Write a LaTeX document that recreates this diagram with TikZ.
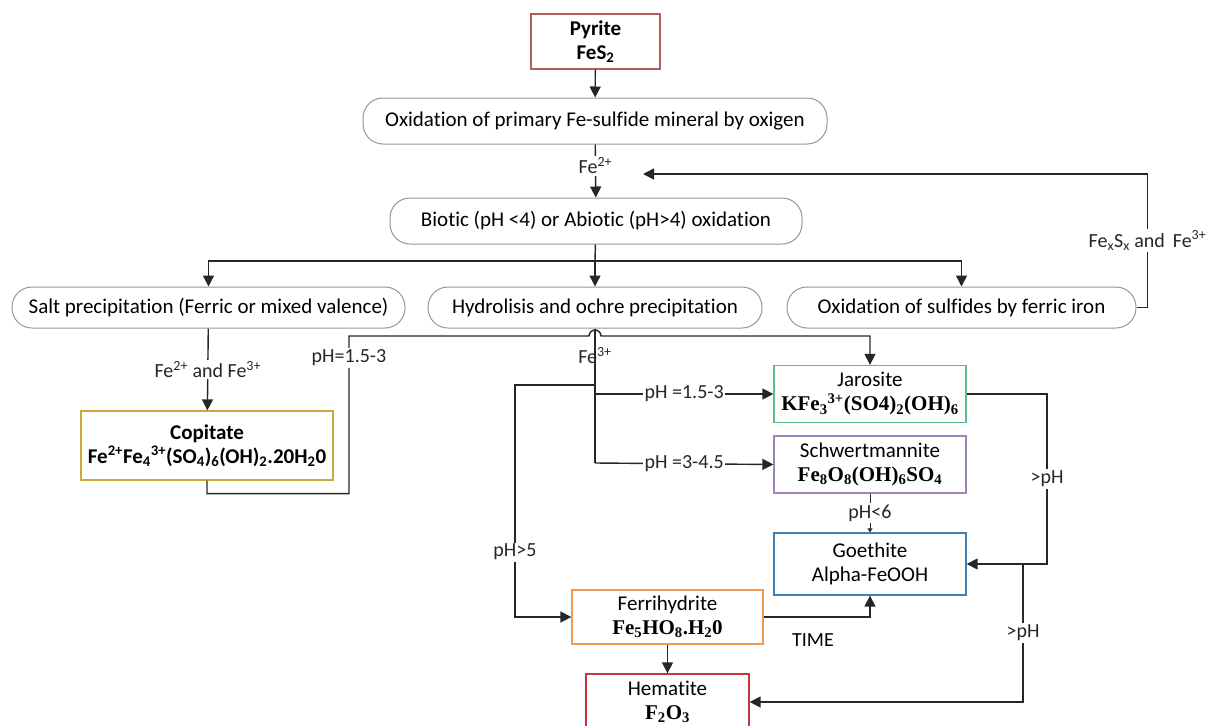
\documentclass[tikz,border=0pt]{standalone}
\usepackage{fontspec}
\setmainfont{Carlito}[Ligatures=NoCommon]
\newfontfamily\chemfont{Liberation Serif}
\usepackage{xcolor}
\definecolor{pillgray}{RGB}{150,150,150}
\definecolor{pyritered}{RGB}{178,92,92}
\definecolor{copigold}{RGB}{205,168,60}
\definecolor{jarogreen}{RGB}{92,190,135}
\definecolor{schwpurple}{RGB}{160,130,190}
\definecolor{goeblue}{RGB}{60,130,185}
\definecolor{ferrorange}{RGB}{240,155,80}
\definecolor{hemred}{RGB}{200,55,55}
\usepackage{tikz}
\usetikzlibrary{shapes.geometric, arrows.meta, positioning}
\newcommand{\chsup}[1]{\textsuperscript{#1}}
\newcommand{\chsub}[1]{\textsubscript{#1}}

\begin{document}
\begin{tikzpicture}[
    x=1pt, y=1pt,
    font=\fontsize{21}{24}\selectfont,
    pill/.style={rectangle, rounded corners=20pt, draw=pillgray, line width=1pt, minimum height=41pt, text centered, inner sep=2pt},
    mineral/.style={rectangle, draw, line width=1.3pt, align=center, inner sep=2pt},
    link/.style={line width=1.4pt, black!85},
    arrow/.style={link, -{Triangle[length=11pt,width=11pt]}},
    smallarrow/.style={link, line width=1pt, -{Triangle[length=4pt,width=5pt]}},
    lbl/.style={fill=white, inner sep=1.5pt, font=\fontsize{20}{22}\selectfont}
]
\clip (0,0) rectangle (1211,-726);

% Nodes
\node (pyr) [mineral, draw=pyritered, minimum width=129pt, minimum height=55pt] at (595.5,-41.5) {\bfseries Pyrite\\\bfseries FeS\chsub{2}};
\node (oxi) [pill, minimum width=464pt, minimum height=46pt] at (595,-121) {Oxidation of primary Fe-sulfide mineral by oxigen};
\node (bio) [pill, minimum width=412pt, minimum height=46pt] at (596,-221) {Biotic (pH <4) or Abiotic (pH>4) oxidation};
\node (salt) [pill, minimum width=393pt] at (208.5,-307.5) {Salt precipitation (Ferric or mixed valence)};
\node (hyd) [pill, minimum width=334pt] at (595,-307.5) {Hydrolisis and ochre precipitation};
\node (sulf) [pill, minimum width=349pt] at (961.5,-307.5) {Oxidation of sulfides by ferric iron};
\node (copi) [mineral, draw=copigold, minimum width=252pt, minimum height=69pt] at (207,-445.5) {\bfseries Copitate\\\bfseries Fe\chsup{2+}Fe\chsub{4}\chsup{3+}(SO\chsub{4})\chsub{6}(OH)\chsub{2}.20H\chsub{2}0};
\node (jaro) [mineral, draw=jarogreen, minimum width=192pt, minimum height=57pt] at (870,-394) {Jarosite\\{\chemfont\bfseries KFe\chsub{3}\chsup{3+}(SO4)\chsub{2}(OH)\chsub{6}}};
\node (schw) [mineral, draw=schwpurple, minimum width=192pt, minimum height=57pt] at (870,-464.5) {Schwertmannite\\{\chemfont\bfseries Fe\chsub{8}O\chsub{8}(OH)\chsub{6}SO\chsub{4}}};
\node (goe) [mineral, draw=goeblue, minimum width=192pt, minimum height=62pt] at (870,-564) {Goethite\\Alpha-FeOOH};
\node (ferr) [mineral, draw=ferrorange, minimum width=191pt, minimum height=54pt] at (667.5,-617) {Ferrihydrite\\{\chemfont\bfseries Fe\chsub{5}HO\chsub{8}.H\chsub{2}0}};
\node (hem) [mineral, draw=hemred, minimum width=163pt, minimum height=56pt] at (667.5,-702) {Hematite\\{\chemfont\bfseries F\chsub{2}O\chsub{3}}};
\node (time) [font=\fontsize{20}{22}\selectfont] at (813,-640) {TIME};

% Junctions
\coordinate (fb) at (643,-174);
\coordinate (split) at (595,-261);
\coordinate (fbranch) at (595,-385);
\coordinate (jbranch) at (595,-394);
\coordinate (hydlow) at (595,-463);
\coordinate (gsplit) at (1023,-564);

% Arrows
\draw [arrow] (pyr) -- (oxi);
\draw [arrow] (oxi) -- node[lbl, pos=0.4]{Fe\chsup{2+}} (bio);
\draw [arrow] (sulf.east) -- ++(11,0) |- node[lbl, pos=0.25]{Fe\chsub{x}S\chsub{x} and\, Fe\chsup{3+}} (fb);
\draw [link] (bio) -- (split);
\draw [arrow] (split) -| (salt);
\draw [arrow] (split) -- (hyd);
\draw [arrow] (split) -| (sulf);
\draw [arrow] (salt) -- node[lbl]{Fe\chsup{2+} and Fe\chsup{3+}} (copi);
\draw [arrow] (copi.south) -- ++(0,-13) -| node[lbl, pos=0.93]{pH=1.5-3} (349,-336) -- (589,-336) arc[start angle=180, end angle=0, radius=6pt] -| (jaro.north);
\draw [link] (hyd.south) -- node[pos=0.2, inner sep=0pt, font=\fontsize{20}{22}\selectfont]{Fe\chsup{3+}} (hydlow);
\draw [arrow] (jbranch) -- node[lbl]{pH =1.5-3} (jaro.west);
\draw [arrow] (hydlow) -- node[lbl]{pH =3-4.5} (schw.west);
\draw [arrow] (fbranch) -- (515,-385) |- node[lbl, pos=0.36]{pH>5} (ferr.west);
\draw [smallarrow] (schw) -- node[lbl]{pH<6} (goe);
\draw [arrow] (jaro.east) -| node[lbl, pos=0.75]{>pH} (1047,-564) -- (goe.east);
\draw [arrow] (gsplit) |- node[lbl, pos=0.25]{>pH} (hem.east);
\draw [arrow] (ferr.east) -| (goe.south);
\draw [arrow] (ferr) -- (hem);

\end{tikzpicture}
\end{document}
